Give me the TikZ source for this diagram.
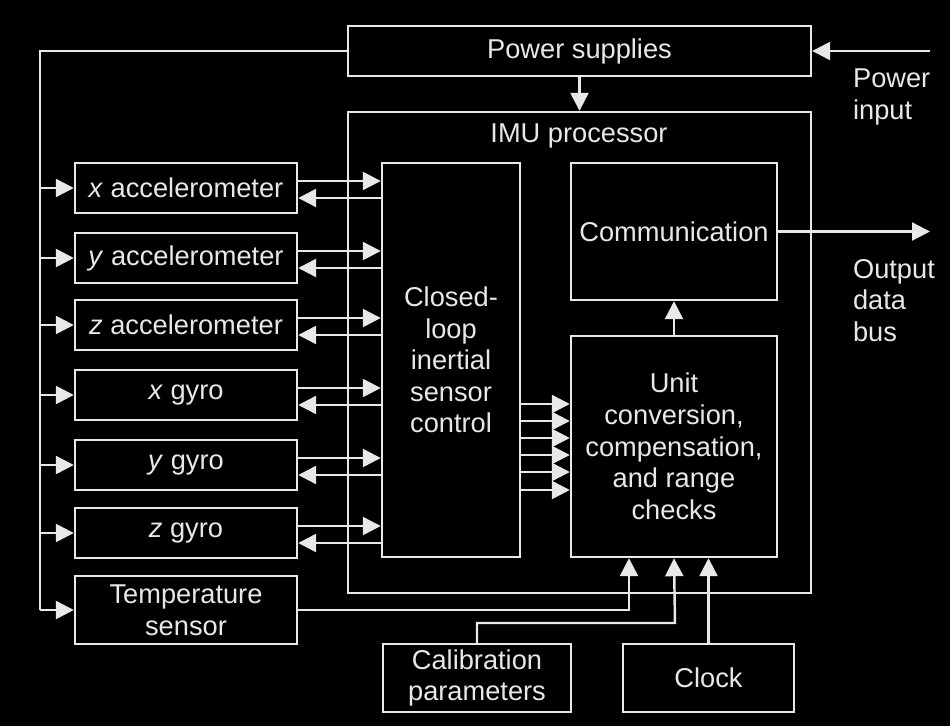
\documentclass[tikz,border=0pt]{standalone}
\usepackage{fontspec}
\setmainfont{Liberation Sans}
\usetikzlibrary{arrows.meta,calc}
\definecolor{fg}{HTML}{E8E8E8}
\begin{document}
\begin{tikzpicture}[x=0.02cm,y=-0.02cm,
  line width=1.4pt,
  every node/.style={text=fg,font=\fontsize{15.5}{18}\selectfont},
  box/.style={draw=fg,rectangle,inner sep=0pt,align=center},
  ln/.style={draw=fg},
  arr/.style={draw=fg,-{Triangle[length=0.36cm,width=0.36cm,fill=fg]}}]
\fill[black] (0,0) rectangle (950,726);
\useasboundingbox (0,0) rectangle (950,726);

% boxes
\node[box,minimum width=9.26cm,minimum height=1.0cm] (ps) at (579.5,51) {Power supplies};
\node[box,minimum width=9.26cm,minimum height=9.62cm] (imu) at (579.5,352.5) {};
\node (imul) at (579,136) {IMU processor};
\node[box,minimum width=2.76cm,minimum height=7.88cm] (cl) at (451,360) {Closed-\\loop\\inertial\\sensor\\control};
\node[box,minimum width=4.12cm,minimum height=2.74cm] (comm) at (674,231.5) {Communication};
\node[box,minimum width=4.12cm,minimum height=4.42cm] (unit) at (674,446.5) {Unit\\conversion,\\compensation,\\and range\\checks};
\foreach \n/\t/\y in {xa/\textit{x} accelerometer/188, ya/\textit{y} accelerometer/258,
    za/\textit{z} accelerometer/325, xg/\textit{x} gyro/395, yg/\textit{y} gyro/465, zg/\textit{z} gyro/533}
  \node[box,minimum width=4.44cm,minimum height=1.0cm] (\n) at (186,\y) {\t};
\node[box,minimum width=4.44cm,minimum height=1.36cm] (temp) at (186,610) {Temperature\\sensor};
\node[box,minimum width=3.76cm,minimum height=1.36cm] (cal) at (477,678) {Calibration\\parameters};
\node[box,minimum width=3.42cm,minimum height=1.36cm] (clk) at (708.5,678) {Clock};
\node[align=left,anchor=north west] (pin) at (846,62) {Power\\input};
\node[align=left,anchor=north west] (obus) at (846,252) {Output\\data\\bus};

% power distribution
\coordinate (pinr) at (930,51);
\coordinate (bt) at (40,51);
\coordinate (bb) at (40,610);
\draw[arr] (pinr) -- (ps.east);
\draw[arr] (ps.south) -- (imu.north);
\draw[ln] (ps.west) -- (bt) -- (bb);
\foreach \n in {xa,ya,za,xg,yg,zg,temp}
  \draw[arr] (bt |- \n.west) -- (\n.west);

% sensor loops
\foreach \n in {xa,ya,za,xg,yg,zg}{
  \path ([yshift=0.14cm]\n.east) coordinate (\n o) ([yshift=-0.2cm]\n.east) coordinate (\n i);
  \draw[arr] (\n o) -- (\n o -| cl.west);
  \draw[arr] (\n i -| cl.west) -- (\n i);
}

% closed loop to unit conversion
\foreach \y in {404,421,438,455,472,490}
  \draw[arr] (cl.east |- 0,\y) -- (unit.west |- 0,\y);

\draw[arr] (unit.north) -- (comm.south);
\coordinate (oend) at (930,231.5);
\draw[arr] (comm.east) -- (oend);

% inputs to unit conversion
\draw[arr] (temp.east) -| ([xshift=-0.9cm]unit.south);
\draw[arr] (cal.north) |- (675,623) -- (unit.south);
\draw[arr] (clk.north) -- (clk.north |- unit.south);
\end{tikzpicture}
\end{document}
